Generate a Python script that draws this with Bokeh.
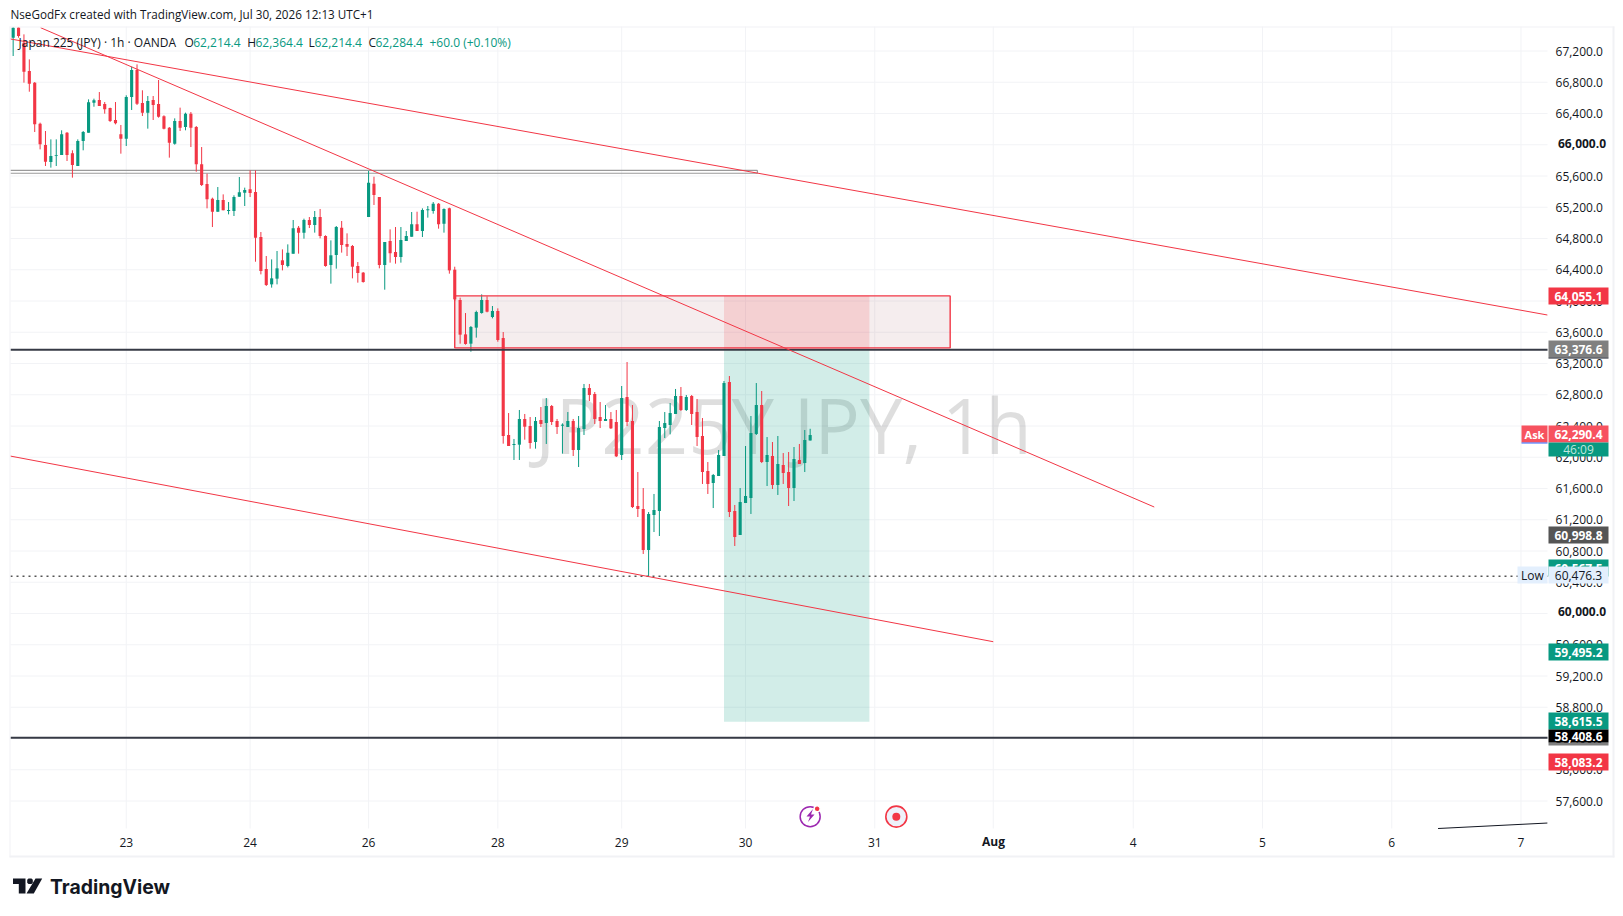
from bokeh.plotting import figure
from bokeh.embed import file_html
from bokeh.resources import INLINE
from bokeh.models import (Range1d, FixedTicker, Label, BoxAnnotation, PolyAnnotation,
                          ColumnDataSource, NumeralTickFormatter, LinearAxis)

FONT = "Open Sans"
UP = "#089981"
DOWN = "#f23645"
INK = "#131722"

# candle values, one row per hourly bar: open, high, low, close
candles = [
 (67371,67507,67136,67499),(67500,67507,67370,67392),(67307,67413,66795,66935),(66944,67093,66679,66782),
 (66795,66803,66163,66261),(66270,66283,65941,66005),(65997,66176,65728,65783),(65779,66069,65707,65856),
 (65860,66069,65728,65869),(65869,66185,65869,66133),(66155,66163,65792,65869),(65890,65929,65579,65741),
 (65728,66069,65728,66048),(66048,66176,65929,66163),(66155,66581,66155,66543),(66539,66590,66487,66569),
 (66573,66675,66496,66496),(66522,66547,66398,66453),(66470,66475,66291,66304),(66317,66547,66261,66274),
 (66133,66253,65886,66078),(66078,66633,65984,66611),(66611,66999,66445,66957),(66957,67029,66509,66526),
 (66534,66697,66368,66411),(66411,66624,66206,66560),(66573,66624,66317,66509),(66522,66829,66347,66359),
 (66364,66377,66197,66206),(66219,66227,65835,66027),(66014,66338,66001,66304),(66304,66475,66176,66219),
 (66227,66411,66185,66398),(66398,66419,65971,66219),(66227,66240,65655,65749),(65749,65971,65472,65485),
 (65498,65630,65186,65301),(65310,65323,64947,65143),(65143,65459,65143,65293),(65293,65365,65161,65161),
 (65152,65267,65109,65165),(65152,65353,65088,65331),(65335,65587,65335,65391),(65387,65451,65216,65421),
 (65429,65672,65331,65382),(65395,65672,64503,64811),(64819,64883,64341,64384),(64410,64576,64192,64205),
 (64213,64533,64171,64290),(64286,64640,64213,64418),(64521,64661,64392,64461),(64448,64725,64430,64619),
 (64606,65037,64606,64930),(64939,64960,64606,64875),(64875,65054,64798,65037),(65037,65075,64934,64973),
 (64973,65152,64875,65075),(65075,65178,64802,64832),(64832,64841,64439,64448),(64461,64776,64222,64585),
 (64589,64960,64414,64947),(64939,65024,64619,64717),(64730,64866,64576,64695),(64704,64717,64290,64439),
 (64448,64499,64235,64358),(64363,64371,64235,64243),(65075,65664,65075,65515),(65502,65591,65229,65357),
 (65331,65331,64418,64461),(64461,64755,64145,64755),(64768,64917,64491,64610),(64627,64947,64478,64563),
 (64563,64947,64491,64781),(64768,64896,64768,64832),(64823,65139,64823,64981),(64981,65143,64896,64896),
 (64896,65186,64819,65165),(65161,65216,65067,65173),(65152,65267,65118,65246),(65246,65254,64926,64981),
 (64990,65186,64875,65178),(65186,65195,64350,64392),(64401,64439,64000,64021),(64013,64043,63454,63569),
 (63573,63846,63441,63450),(63454,63680,63351,63667),(63659,63876,63531,63859),(63846,64085,63838,64013),
 (64013,64060,63855,63863),(63795,63936,63778,63872),(63872,63906,63479,63501),(63526,63603,62174,62272),
 (62285,62566,62144,62144),(62157,62234,61965,62170),(62161,62605,61965,62490),(62490,62554,62225,62391),
 (62400,62515,62110,62182),(62195,62515,62110,62464),(62477,62643,62387,62426),(62438,62758,62170,62656),
 (62656,62669,62413,62451),(62464,62490,62298,62387),(62404,62434,62046,62417),(62387,62579,62387,62464),
 (62464,62490,62016,62093),(62093,62528,61875,62374),(62362,62938,62285,62886),(62886,62938,62720,62797),
 (62810,62835,62426,62490),(62515,62707,62374,62464),(62464,62669,62464,62490),(62490,62579,62362,62370),
 (62451,62605,62003,62012),(62029,62912,61965,62758),(62771,63219,62400,62451),(62464,62669,61350,61363),
 (61376,61811,61235,61338),(61338,61606,60762,60813),(60813,61299,60476,61274),(61261,61530,61043,61325),
 (61312,62464,60992,62387),(62374,62579,62246,62438),(62413,62694,62293,62566),(62554,62874,62554,62784),
 (62784,62899,62592,62605),(62605,62797,62592,62771),(62784,62797,62413,62554),(62579,62746,62144,62259),
 (62272,62502,61658,61811),(61824,61939,61530,61658),(61670,61786,61350,61773),(61760,62093,61760,62029),
 (62016,62976,62016,62950),(62963,63040,61235,61299),(61312,61389,60864,60979),(61005,61606,61005,61427),
 (61414,62144,61414,61504),(61478,62528,61274,62310),(62298,62950,62285,62669),(62669,62848,61926,61939),
 (61939,62259,61632,62029),(62016,62195,61594,61645),(61645,62272,61517,61914),(61901,62054,61658,61798),
 (61811,62067,61376,61606),(61606,62131,61440,61978),(61965,62170,61914,61914),(61926,62349,61811,62221),
 (62214.4,62364.4,62214.4,62284.4),
]

price_ticks = [67200,66800,66400,66000,65600,65200,64800,64400,64000,63600,63200,62800,62400,62000,
               61600,61200,60800,60400,60000,59600,59200,58800,58400,58000,57600]
day_ticks = {21:"23",44:"24",66:"26",90:"28",113:"29",136:"30",160:"31",182:"Aug",208:"4",232:"5",256:"6",280:"7"}

entry_price = 63376.6
target_line = 58408.6
zone_top = 64065
zone_bottom = 63400
zone_stop = 58615.5
low_price = 60476.3
band_top = 65673
band_bottom = 65635

# visible pane limits on the two scales
pane_left, pane_right = -0.496, 284.93
pane_low, pane_high = 57248, 67513

# trendlines: (bar, price) at each end
trend_a = ((-0.5,67354),(284.9,63821))
trend_b = ((5.1,67498),(211.9,61363))
trend_c = ((-0.5,62015),(182,59639))
trend_d = ((264.6,57248),(284.9,57318))

p = figure(width=1620, height=910, output_backend="svg", toolbar_location=None,
           x_range=Range1d(-2.353,298.48), y_range=Range1d(56198.4,67846.4),
           x_axis_location=None, y_axis_location=None, min_border_left=0, min_border_right=0,
           min_border_top=0, min_border_bottom=0, outline_line_color=None,
           background_fill_color="white")
p.grid.visible=False

yax=LinearAxis(fixed_location=pane_right,ticker=FixedTicker(ticks=price_ticks),
               formatter=NumeralTickFormatter(format="0,0.0"),
               major_label_overrides={66000:"",60000:""})
xax=LinearAxis(fixed_location=pane_low,ticker=FixedTicker(ticks=list(day_ticks)),
               major_label_overrides={k:("" if v=="Aug" else v) for k,v in day_ticks.items()})
for ax in (xax,yax):
    ax.axis_line_color=None
    ax.major_tick_line_color=None
    ax.minor_tick_line_color=None
    ax.major_label_text_font=FONT
    ax.major_label_text_font_size="12px"
    ax.major_label_text_color=INK
xax.major_label_standoff=3
yax.major_label_standoff=2
p.add_layout(yax,"right")
p.add_layout(xax,"below")

GRID="#f2f3f6"
p.segment(x0=list(day_ticks),x1=list(day_ticks),y0=pane_low,y1=pane_high,line_color=GRID,line_width=1,level="underlay")
p.segment(x0=pane_left,x1=pane_right,y0=price_ticks,y1=price_ticks,line_color=GRID,line_width=1,level="underlay")

def canvas_text(x,y,text,color=INK,size="12px",align="left",weight="normal",alpha=1,level="annotation",font=FONT):
    lab=Label(x=x,y=y,x_units="canvas",y_units="canvas",text=text,text_color=color,
              text_font=font,text_font_size=size,text_align=align,text_baseline="middle",
              text_font_style=weight,text_alpha=alpha,level=level)
    p.add_layout(lab); return lab

def canvas_box(x0,x1,y0,y1,color):
    p.add_layout(BoxAnnotation(left=x0,right=x1,top=y0,bottom=y1,left_units="canvas",right_units="canvas",
                 top_units="canvas",bottom_units="canvas",fill_color=color,fill_alpha=1,line_color=None))

canvas_text(783,424,"JP225Y JPY, 1h",color="#000000",alpha=0.13,size="76px",align="center",level="underlay")

# position tool and supply zone
p.quad(left=[82],right=[174],top=[zone_top],bottom=[zone_bottom],fill_color="#801922",fill_alpha=0.08,line_color=None)
p.quad(left=[132],right=[159],top=[zone_top],bottom=[entry_price],fill_color=DOWN,fill_alpha=0.16,line_color=None)
p.quad(left=[132],right=[159],top=[entry_price],bottom=[zone_stop],fill_color=UP,fill_alpha=0.18,line_color=None)

# grey band at the top
p.segment(x0=[pane_left,pane_left,138.2],x1=[138.2,138.2,138.2],y0=[band_top,band_bottom,band_top],y1=[band_top,band_bottom,band_bottom],
          line_color="#9a9a9a",line_width=1.2)

xs=list(range(len(candles)))
o=[c[0] for c in candles];h=[c[1] for c in candles];l=[c[2] for c in candles];c_=[c[3] for c in candles]
colors=[UP if c[3]>=c[0] else DOWN for c in candles]
src=ColumnDataSource(dict(x=xs,o=o,h=h,l=l,c=c_,color=colors,top=[max(a,b) for a,b in zip(o,c_)],bot=[min(a,b) for a,b in zip(o,c_)]))
p.segment("x","h","x","l",source=src,color="color",line_width=1)
p.vbar("x",0.58,"top","bot",source=src,fill_color="color",line_color=None)

p.segment(x0=[pane_left,pane_left],x1=[pane_right,pane_right],y0=[entry_price,target_line],y1=[entry_price,target_line],line_color="#363a45",line_width=2)
p.quad(left=[82],right=[174],top=[zone_top],bottom=[zone_bottom],fill_alpha=0,line_color=DOWN,line_width=1.4)
p.line([pane_left,pane_right],[low_price,low_price],line_color="#555555",line_width=1.5,line_dash="2 4")
for t in (trend_a,trend_b,trend_c):
    p.line([t[0][0],t[1][0]],[t[0][1],t[1][1]],line_color=DOWN,line_width=1)
p.line([trend_d[0][0],trend_d[1][0]],[trend_d[0][1],trend_d[1][1]],line_color=INK,line_width=1)

# event markers
p.scatter([148],[57400],size=20,fill_color="white",line_color="#9c27b0",line_width=1.5)
p.scatter([149.3],[57500],size=6,fill_color=DOWN,line_color="white",line_width=1.5)
p.scatter([164],[57400],size=21,fill_color="#eef1fa",line_color=DOWN,line_width=1.6)
p.scatter([164],[57400],size=8,fill_color=DOWN,line_color=None)

# outer border
for b in ((9,1614,26,27),(1612,1614,26,857),(9,1614,855,857),(9,10,26,857)):
    canvas_box(b[0],b[1],b[2],b[3],"#f1f2f5")

canvas_text(1581.5,143,"66,000.0",weight="bold",align="center")
canvas_text(1581.5,610.5,"60,000.0",weight="bold",align="center")
canvas_text(993,841,"Aug",weight="bold",align="center")

# header and legend
canvas_text(10,13,"NseGodFx created with TradingView.com, Jul 30, 2026 12:13 UTC+1",size="11.7px")
canvas_text(18,41.5,"Japan 225 (JPY) · 1h · OANDA")
for x,t,col in ((184,"O",INK),(192.7,"62,214.4",UP),(246.7,"H",INK),(255,"62,364.4",UP),(308,"L",INK),(314,"62,214.4",UP),
                (368,"C",INK),(375,"62,284.4",UP),(429,"+60.0 (+0.10%)",UP)):
    canvas_text(x,41.5,t,color=col)

# price tags
tags=[(287,304,DOWN,"64,055.1","white"),(340,357,"#808080","63,376.6","white"),(425,442,"#f7525f","62,290.4","white"),
      (442,456,UP,"46:09","#bfe6de"),(526,543,"#555555","60,998.8","white"),(559,576,UP,"60,567.5","white"),
      (566,583,"#e3effd","60,476.3",INK),(643,660,UP,"59,495.2","white"),(712,729,UP,"58,615.5","white"),
      (742,745,"#808080","","white"),(729,742,"#000000","58,408.6","white"),(753,770,DOWN,"58,083.2","white")]
for y0,y1,col,txt,tc in tags:
    canvas_box(1548,1608,y0,y1,col)
    if txt:
        canvas_text(1578,(y0+y1)/2,txt,color=tc,align="center",weight="bold" if tc=="white" else "normal")
canvas_box(1548,1608,357,358,INK)
canvas_box(1521,1547,425,442,"#f7525f")
canvas_box(1521,1547,442,443,"#2962ff")
canvas_text(1534,433.5,"Ask",color="white",align="center",weight="bold",size="11px")
canvas_box(1517,1547,566,583,"#e3effd")
canvas_text(1532,574.5,"Low",color=INK,align="center")

def canvas_poly(px,py,color):
    p.add_layout(PolyAnnotation(xs=px,ys=py,xs_units="canvas",ys_units="canvas",
                 fill_color=color,fill_alpha=1,line_color=None))
# bolt inside the purple marker
canvas_poly([812.5,806,809.5,807.5,814,810.5],[808.5,816,816,821.5,814,814],"#9c27b0")

# TradingView mark
canvas_poly([12.5,25,25,18.3,18.3,12.5],[878,878,893,893,883.5,883.5],"#131722")
canvas_poly([35,41.7,33.3,26],[878,878,893,893],"#131722")
canvas_poly([28,31,32.3,32.3,31,28,26.7,26.7],[878,878,879.3,882.3,883.5,883.5,882.3,879.3],"#131722")
canvas_text(49.5,886,"TradingView",size="19.4px",weight="bold",font="Inter")

open("out.html","w").write(file_html(p,INLINE))
